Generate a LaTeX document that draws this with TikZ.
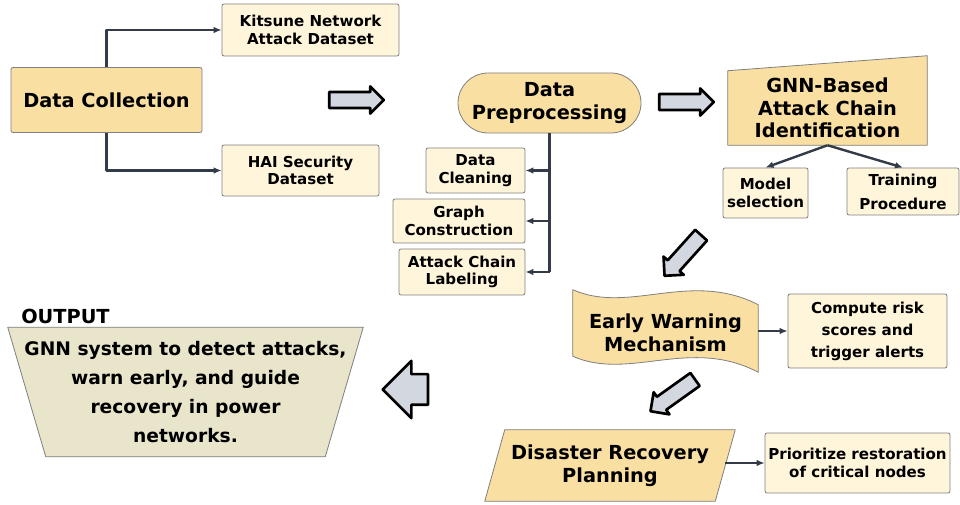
\documentclass[tikz,border=0pt]{standalone}
\usepackage{fontspec}
\setmainfont{DejaVu Sans}
\usetikzlibrary{shapes.arrows,arrows.meta,calc,backgrounds}
\definecolor{boxorange}{HTML}{FADFA3}
\definecolor{boxcream}{HTML}{FEF5DA}
\definecolor{outkhaki}{HTML}{E8E5CB}
\definecolor{linegray}{HTML}{7F7F7F}
\definecolor{conncol}{HTML}{333A48}
\definecolor{arrowfill}{HTML}{D3D7E0}
\tikzset{
  boxsize/.style 2 args={minimum width=#1*0.75pt,minimum height=#2*0.75pt},
  mainbox/.style={draw=linegray,line width=0.6pt,fill=boxorange,rounded corners=1.5pt,align=center,inner sep=0pt,font=\bfseries\fontsize{14.5}{17}\selectfont},
  subbox/.style={draw=linegray,line width=0.6pt,fill=boxcream,rounded corners=1.5pt,align=center,inner sep=0pt,font=\bfseries\fontsize{11.3}{13}\selectfont},
  bigtext/.style={align=center,inner sep=0pt,font=\bfseries\fontsize{14.5}{17}\selectfont},
  shapeline/.style={draw=linegray,line width=0.6pt,line join=round},
  conn/.style={draw=conncol,line width=1.8pt,line join=round,-{Latex[length=6pt,width=5pt]}},
  barrow/.style={single arrow,draw=black,line width=2pt,fill=arrowfill,line join=round,
    inner xsep=0pt,inner ysep=5pt,minimum width=0pt,single arrow head extend=4.2pt,minimum height=41pt},
}
\begin{document}
\begin{tikzpicture}[x=0.75pt,y=-0.75pt]
\useasboundingbox (0,0) rectangle (960,505);

% data collection
\node[mainbox,boxsize={191}{65}] (dc) at (106.5,100) {Data Collection};
\node[subbox,boxsize={177}{52}] (kit) at (310.5,30) {Kitsune Network\\Attack Dataset};
\node[subbox,boxsize={157}{51}] (hai) at (300.5,170.5) {HAI Security\\Dataset};
\draw[conn] (dc.north) |- (kit.west);
\draw[conn] (dc.south) |- (hai.west);

% preprocessing
\node[mainbox,rounded corners=22.5pt,boxsize={183}{60}] (prep) at (549.5,103) {Data\\Preprocessing};
\node[subbox,boxsize={99}{45}] (clean) at (475.5,170.5) {Data\\Cleaning};
\node[subbox,boxsize={132}{44}] (graph) at (459,221) {Graph\\Construction};
\node[subbox,boxsize={126}{46}] (lab) at (462,272) {Attack Chain\\Labeling};
\draw[conn,-] (prep.south) -- (prep.south |- lab.east);
\foreach \n in {clean,graph,lab} \draw[conn] (prep.south |- \n.east) -- (\n.east);

% gnn
\node[bigtext,boxsize={199}{74}] (gnn) at (827.5,108) {GNN-Based\\Attack Chain\\Identification};
\node[subbox,font=\bfseries\fontsize{11.3}{14}\selectfont,boxsize={85}{50}] (ms) at (765.5,193) {Model\\selection};
\node[subbox,font=\bfseries\fontsize{11.3}{18}\selectfont,boxsize={112}{47}] (tp) at (903,191.5) {Training\\Procedure};
\draw[conn] (gnn.south) -- (ms.north);
\draw[conn] (gnn.south) -- (tp.north);

% early warning + recovery
\node[bigtext,boxsize={185}{66}] (ew) at (665.5,333) {Early Warning\\Mechanism};
\node[subbox,font=\bfseries\fontsize{11.3}{16.5}\selectfont,boxsize={159}{74}] (risk) at (867.5,331) {Compute risk\\scores and\\trigger alerts};
\draw[conn] (ew.east |- risk.west) -- (risk.west);
\node[bigtext,boxsize={230}{71}] (drp) at (610,465.5) {Disaster Recovery\\Planning};
\node[subbox,boxsize={185}{60}] (prio) at (857.5,463) {Prioritize restoration\\of critical nodes};
\draw[conn] (drp.east |- prio.west) -- (prio.west);

% output
\node[anchor=west,inner sep=0pt,font=\bfseries\fontsize{14.5}{17}\selectfont] (outlbl) at (21,316) {OUTPUT};
\node[bigtext,font=\bfseries\fontsize{14}{21.75}\selectfont,boxsize={355}{129}] (out) at (185.5,392) {GNN system to detect attacks,\\warn early, and guide\\recovery in power\\networks.};

% block arrows
\foreach \x/\y/\a [count=\i] in {352.5/100/0, 682.5/102/0, 685.5/252.5/228, 676/393/215.5}
  \node[barrow,rotate=\a] (ba\i) at (\x,\y) {};
\node[barrow,rotate=180,inner ysep=10.5pt,single arrow head extend=10pt,minimum height=34pt] (ba5) at (413,389.5) {};

\begin{pgfonlayer}{background}
\draw[shapeline,fill=boxorange] (gnn.north west) -- ($(gnn.north east)+(0,-15)$) -- (gnn.south east) -- (gnn.south west) -- cycle;
\draw[shapeline,fill=boxorange] ($(ew.north west)+(0,-10)$) .. controls ($(ew.north west)+(57,15)$) and ($(ew.north west)+(117,-30)$) .. ($(ew.north east)+(0,5)$)
  -- ($(ew.south east)+(0,6)$) .. controls ($(ew.south west)+(117,-30)$) and ($(ew.south west)+(57,15)$) .. ($(ew.south west)+(0,-10)$) -- cycle;
\draw[shapeline,fill=boxorange] ($(drp.north west)+(10,0)$) -- ($(drp.north east)+(10,0)$) -- ($(drp.south east)+(-10,0)$) -- ($(drp.south west)+(-10,0)$) -- cycle;
\draw[shapeline,fill=outkhaki] (out.north west) -- (out.north east) -- ($(out.south east)+(-38,0)$) -- ($(out.south west)+(38,0)$) -- cycle;
\end{pgfonlayer}
\end{tikzpicture}
\end{document}
